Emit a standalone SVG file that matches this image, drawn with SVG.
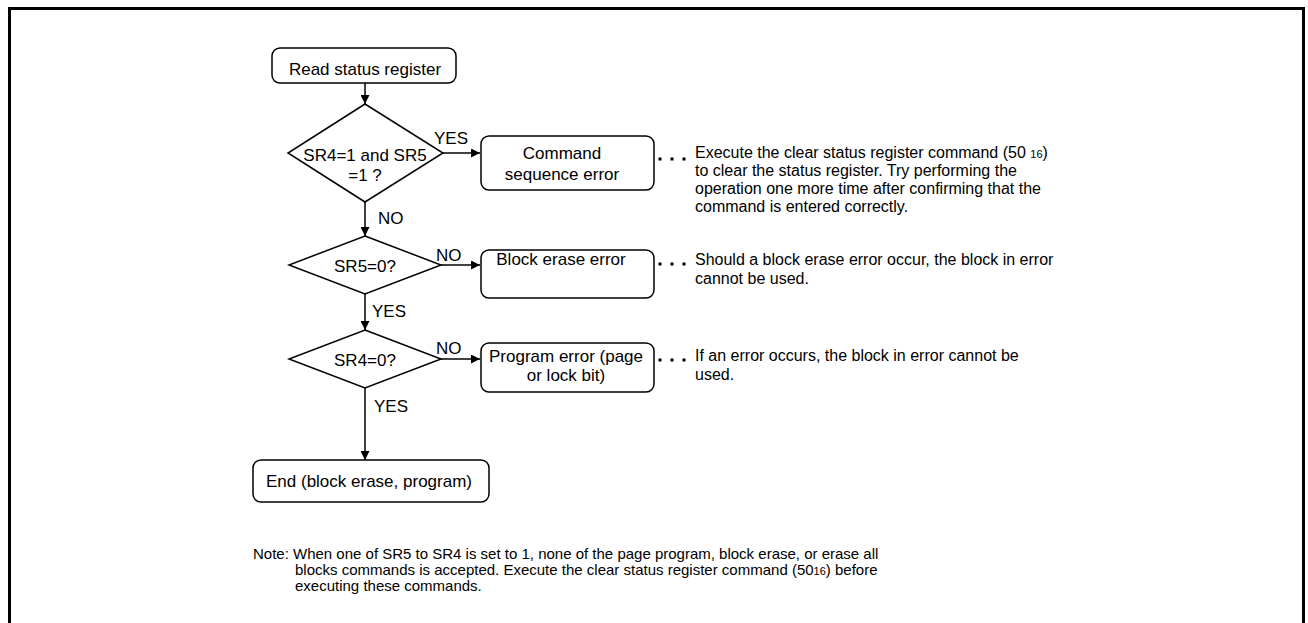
<svg xmlns="http://www.w3.org/2000/svg" width="1308" height="623" viewBox="0 0 1308 623">
<defs>
<marker id="arr" viewBox="0 0 10 10" refX="10" refY="5" markerWidth="9" markerHeight="9" markerUnits="userSpaceOnUse" orient="auto">
<path d="M0,0 L10,5 L0,10 z" fill="#000"/>
</marker>
<style>
text{font-family:"Liberation Sans",Arial,sans-serif;font-size:17px;fill:#000}
.c{text-anchor:middle}
.r{font-size:16px}
.f{font-size:15px}
.box{fill:#fff;stroke:#000;stroke-width:1.5}
.ln{fill:none;stroke:#000;stroke-width:1.5}
.dots{fill:none;stroke:#000;stroke-width:3;stroke-dasharray:3 9}
.sm{font-size:11px}
</style>
</defs>
<rect width="1308" height="623" fill="#fff"/>
<path d="M9.5,623 V8.5 H1303.5 V623" fill="none" stroke="#000" stroke-width="3"/>

<g id="connectors">
<line class="ln" x1="365" y1="83" x2="365" y2="104" marker-end="url(#arr)"/>
<line class="ln" x1="443" y1="153" x2="480" y2="153" marker-end="url(#arr)"/>
<line class="ln" x1="365" y1="202" x2="365" y2="236" marker-end="url(#arr)"/>
<line class="ln" x1="441" y1="265" x2="480" y2="265" marker-end="url(#arr)"/>
<line class="ln" x1="365" y1="294" x2="365" y2="330" marker-end="url(#arr)"/>
<line class="ln" x1="441" y1="359" x2="480" y2="359" marker-end="url(#arr)"/>
<line class="ln" x1="365" y1="388" x2="365" y2="460" marker-end="url(#arr)"/>
<line class="dots" x1="658.5" y1="159" x2="690" y2="159"/>
<line class="dots" x1="658.5" y1="264" x2="690" y2="264"/>
<line class="dots" x1="658.5" y1="360" x2="690" y2="360"/>
<text x="434" y="144">YES</text>
<text x="378" y="224">NO</text>
<text x="436" y="261">NO</text>
<text x="372" y="317">YES</text>
<text x="436" y="354">NO</text>
<text x="374" y="412">YES</text>
</g>

<g id="start">
<rect class="box" x="272" y="48" width="184" height="35" rx="8"/>
<text class="c" x="365" y="75">Read status register</text>
</g>

<g id="dec1">
<polygon class="box" points="365,104 443,153 365,202 288,153"/>
<text class="c" x="365" y="161">SR4=1 and SR5</text>
<text class="c" x="365" y="181">=1 ?</text>
</g>

<g id="cmdseq">
<rect class="box" x="481" y="136" width="173" height="54" rx="8"/>
<text class="c" x="562" y="159">Command</text>
<text class="c" x="562" y="180">sequence error</text>
</g>

<g id="note1">
<text class="r" x="695" y="158">Execute the clear status register command (50 <tspan class="sm">16</tspan>)</text>
<text class="r" x="695" y="176">to clear the status register. Try performing the</text>
<text class="r" x="695" y="194">operation one more time after confirming that the</text>
<text class="r" x="695" y="212">command is entered correctly.</text>
</g>

<g id="dec2">
<polygon class="box" points="365,236 441,265 365,294 289,265"/>
<text class="c" x="365" y="272">SR5=0?</text>
</g>

<g id="blockerase">
<rect class="box" x="481" y="250" width="173" height="48" rx="8"/>
<text class="c" x="561" y="265">Block erase error</text>
</g>

<g id="note2">
<text class="r" x="695" y="265">Should a block erase error occur, the block in error</text>
<text class="r" x="695" y="284">cannot be used.</text>
</g>

<g id="dec3">
<polygon class="box" points="365,330 441,359 365,388 289,359"/>
<text class="c" x="365" y="366">SR4=0?</text>
</g>

<g id="progerr">
<rect class="box" x="481" y="343" width="173" height="49" rx="8"/>
<text class="c" x="566" y="362">Program error (page</text>
<text class="c" x="566" y="381">or lock bit)</text>
</g>

<g id="note3">
<text class="r" x="695" y="361">If an error occurs, the block in error cannot be</text>
<text class="r" x="695" y="380">used.</text>
</g>

<g id="end">
<rect class="box" x="253" y="460" width="236" height="42" rx="8"/>
<text class="c" x="369" y="487">End (block erase, program)</text>
</g>

<g id="footnote">
<text class="f" x="253" y="559">Note: When one of SR5 to SR4 is set to 1, none of the page program, block erase, or erase all</text>
<text class="f" x="295" y="575">blocks commands is accepted. Execute the clear status register command (50<tspan class="sm">16</tspan>) before</text>
<text class="f" x="295" y="591">executing these commands.</text>
</g>
</svg>
